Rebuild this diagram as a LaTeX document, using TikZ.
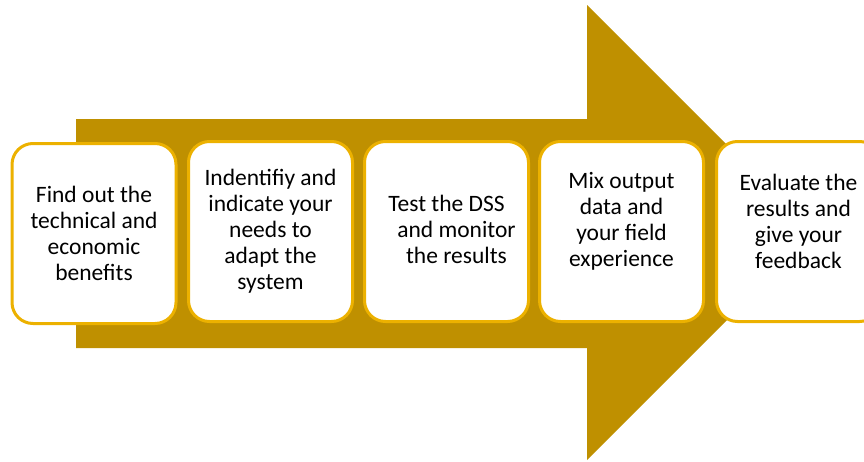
\documentclass[tikz,border=0pt]{standalone}
\usepackage{fontspec}
\setmainfont{Carlito}
\definecolor{arrowgold}{RGB}{191,144,0}
\definecolor{boxgold}{RGB}{236,177,0}
\begin{document}
\begin{tikzpicture}[x=1pt,y=-1pt,
  stepbox/.style={draw=boxgold, line width=3pt, fill=white, rounded corners=21pt,
    minimum width=164pt, minimum height=180pt, inner sep=0pt},
  steptext/.style={align=center, font=\fontsize{23.5}{26}\selectfont, text=black, inner sep=0pt}]
  \useasboundingbox (0,0) rectangle (864,461);
  \clip (0,0) rectangle (864,461);
  % broad process arrow
  \fill[arrowgold] (76,119) -- (587,119) -- (587,5) -- (814.5,232.5)
    -- (587,460) -- (587,348) -- (76,348) -- cycle;
  % step boxes
  \node[stepbox] (b1) at (94,233.5) {};
  \node[stepbox] (b2) at (270.5,231.5) {};
  \node[stepbox] (b3) at (446.5,231.5) {};
  \node[stepbox] (b4) at (621.5,231.5) {};
  \node[stepbox] (b5) at (798.5,231.5) {};
  % step labels
  \node[steptext] (t1) at (b1.center) {Find out the\\technical and\\economic\\benefits};
  \node[steptext] (t2) at (b2.center) {Indentifiy and\\indicate your\\needs to\\adapt the\\system};
  \node[steptext] (t3) at ([yshift=2pt]b3.center) {Test the DSS\\\hspace*{20pt}and monitor\\\hspace*{20pt}the results};
  \node[steptext] (t4) at ([yshift=10pt]b4.center) {Mix output\\data and\\your field\\experience};
  \node[steptext] (t5) at ([yshift=10pt]b5.center) {Evaluate the\\results and\\give your\\feedback};
\end{tikzpicture}
\end{document}
